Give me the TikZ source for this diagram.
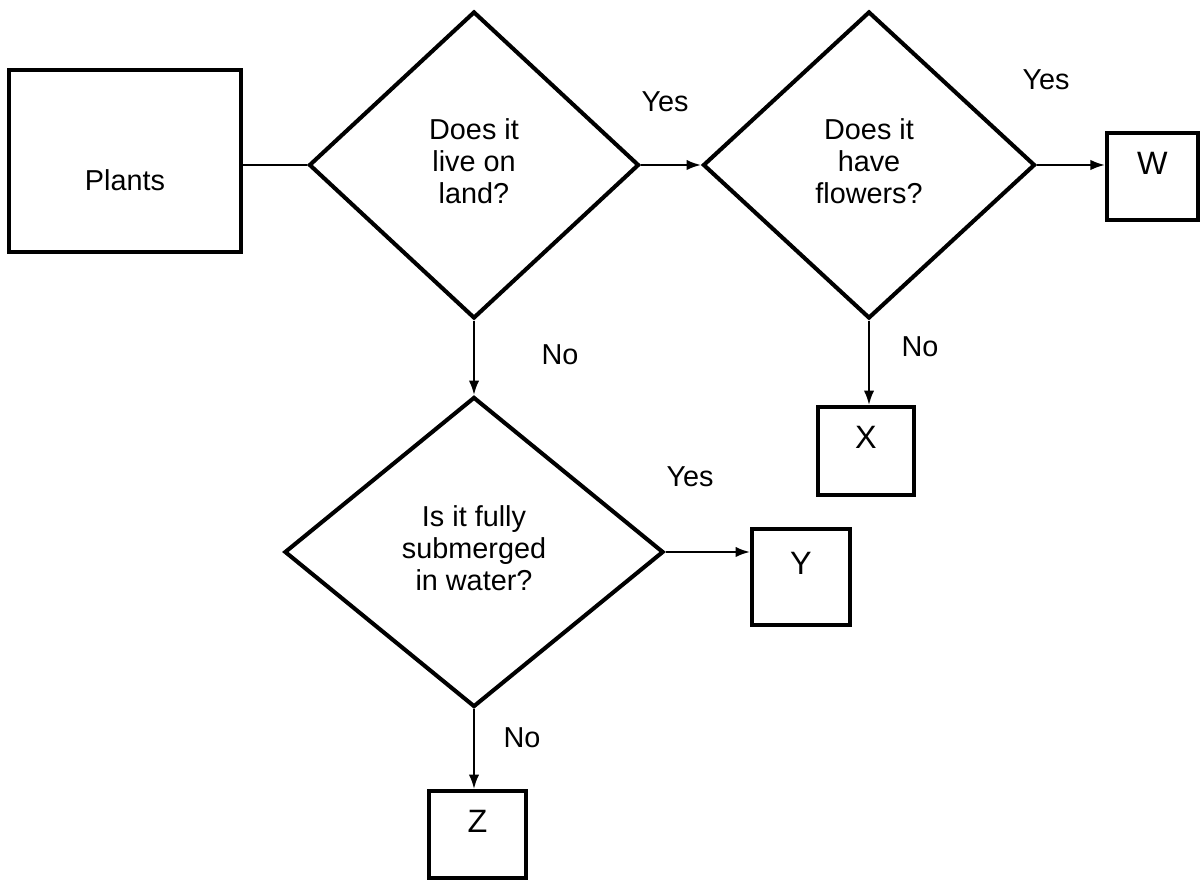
\documentclass[tikz,border=0pt]{standalone}
\usepackage{fontspec}
\setmainfont{Liberation Sans}
\usetikzlibrary{shapes.geometric, arrows.meta, positioning}

\begin{document}
\begin{tikzpicture}[
        every node/.style={font=\fontsize{20.5}{23}\selectfont},
        start/.style={rectangle, draw=black, line width=2.9pt, text height=42pt, text depth=0pt},
        question/.style={diamond, draw=black, line width=2.9pt, inner sep=0pt},
        answer/.style={rectangle, draw=black, line width=2.9pt, font=\fontsize{23}{26}\selectfont, text height=16pt, text depth=19pt},
        link/.style={-, black, line width=1.4pt},
        flow/.style={-{Latex[length=3.6mm, width=2.6mm]}, black, line width=1.4pt}
    ]
        \useasboundingbox (0,0) rectangle (30.025,22.025);

        % Boxes and questions
        \node[start, minimum width=5.8cm, minimum height=4.55cm] (plants) at (3.125,18) {Plants};
        \node[question, minimum width=8.25cm, minimum height=7.675cm] (land) at (11.85,17.9)
            {\begin{tabular}{@{}c@{}}Does it\\live on\\land?\end{tabular}};
        \node[question, minimum width=8.3cm, minimum height=7.675cm] (flowers) at (21.725,17.9)
            {\begin{tabular}{@{}c@{}}Does it\\have\\flowers?\end{tabular}};
        \node[question, minimum width=9.475cm, minimum height=7.75cm] (water) at (11.85,8.225)
            {\begin{tabular}{@{}c@{}}Is it fully\\submerged\\in water?\end{tabular}};
        \node[answer, minimum width=2.275cm, minimum height=2.175cm] (W) at (28.81,17.61) {W};
        \node[answer, minimum width=2.4cm, minimum height=2.2cm] (X) at (21.65,10.75) {X};
        \node[answer, minimum width=2.45cm, minimum height=2.4cm] (Y) at (20.025,7.6) {Y};
        \node[answer, minimum width=2.425cm, minimum height=2.175cm] (Z) at (11.9375,1.1625) {Z};

        % Connectors
        \draw[link] (plants.east |- land.west) -- (land.west);
        \draw[flow] (land.east) -- (flowers.west);
        \draw[flow] (flowers.east) -- (flowers.east -| W.west);
        \draw[flow] (flowers.south) -- (flowers.south |- X.north);
        \draw[flow] (land.south) -- (water.north);
        \draw[flow] (water.east) -- (water.east -| Y.west);
        \draw[flow] (water.south) -- (water.south |- Z.north);

        % Answers on the connectors
        \node (yes1) at (16.625,19.475) {Yes};
        \node (yes2) at (26.15,20.025) {Yes};
        \node (no2) at (23.0,13.35) {No};
        \node (no1) at (14.0,13.15) {No};
        \node (yes3) at (17.25,10.1) {Yes};
        \node (no3) at (13.05,3.575) {No};
    \end{tikzpicture}
\end{document}
